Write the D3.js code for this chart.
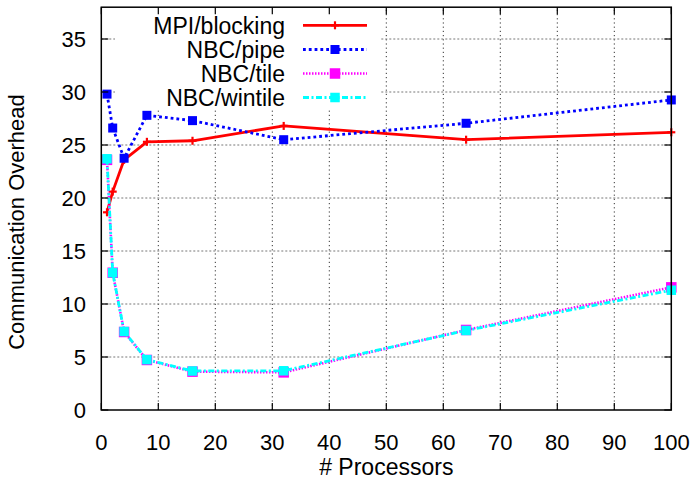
<!DOCTYPE html>
<html>
<head>
<meta charset="utf-8">
<script src="https://cdn.jsdelivr.net/npm/d3@7"></script>
<style>
  html, body { margin: 0; padding: 0; background: #fff; }
  svg { display: block; }
  text { font-family: "Liberation Sans", Arial, Helvetica, sans-serif; fill: #000; }
</style>
</head>
<body>
<svg id="chart" width="696" height="480"></svg>
<script>
// ---- data ----
const processors = [1, 2, 4, 8, 16, 32, 64, 100];
const mpiBlocking = [18.65, 20.6, 23.6, 25.3, 25.4, 26.8, 25.5, 26.2];
const nbcPipe     = [29.8, 26.6, 23.75, 27.8, 27.3, 25.5, 27.05, 29.25];
const nbcTile     = [23.6, 12.95, 7.36, 4.72, 3.62, 3.55, 7.55, 11.57];
const nbcWintile  = [23.7, 12.95, 7.4, 4.75, 3.68, 3.7, 7.5, 11.3];
const seriesNames = ["MPI/blocking", "NBC/pipe", "NBC/tile", "NBC/wintile"];
const xTicks = [0, 10, 20, 30, 40, 50, 60, 70, 80, 90, 100];
const yTicks = [0, 5, 10, 15, 20, 25, 30, 35];
const xLabel = "# Processors";
const yLabel = "Communication Overhead";

// ---- layout ----
const W = 696, H = 480;
const margin = { left: 101.3, right: 24.7, top: 7.2, bottom: 70 };
const x = d3.scaleLinear().domain([0, 100]).range([margin.left, W - margin.right]);
const y = d3.scaleLinear().domain([0, 38]).range([H - margin.bottom, margin.top]);

const svg = d3.select("#chart");

const styles = [
  { color: "#ff0000", width: 2.8, dash: null, marker: "plus", msize: 8 },
  { color: "#0000ff", width: 2.8, dash: "2.8,3", marker: "square", msize: 9 },
  { color: "#ff00ff", width: 2.6, dash: "1.5,1.5", marker: "square", msize: 10.5 },
  { color: "#00ffff", width: 2.8, dash: "6,2.5,2,2.5", marker: "square", msize: 9.5 }
];
const allSeries = [mpiBlocking, nbcPipe, nbcTile, nbcWintile];

// ---- grid ----
const grid = svg.append("g");
grid.selectAll("line.gx").data(xTicks.filter(d => d > 0 && d < 100)).join("line")
  .attr("x1", d => x(d)).attr("x2", d => x(d))
  .attr("y1", y(0)).attr("y2", y(38))
  .attr("stroke", "#333").attr("stroke-width", 1).attr("stroke-dasharray", "1.2,3");
grid.selectAll("line.gy").data(yTicks.filter(d => d > 0)).join("line")
  .attr("x1", x(0)).attr("x2", x(100))
  .attr("y1", d => y(d)).attr("y2", d => y(d))
  .attr("stroke", "#777").attr("stroke-width", 1).attr("stroke-dasharray", "2,2");

// ---- legend box (opaque) ----
svg.append("rect")
  .attr("x", 115).attr("y", margin.top)
  .attr("width", 266).attr("height", 101)
  .attr("fill", "#fff");

// ---- series ----
const line = d3.line().x((d, i) => x(processors[i])).y(d => y(d));

function drawMarker(g, st, cx, cy) {
  const s = st.msize;
  if (st.marker === "plus") {
    g.append("line").attr("x1", cx - s / 2).attr("x2", cx + s / 2).attr("y1", cy).attr("y2", cy)
      .attr("stroke", st.color).attr("stroke-width", 2.2);
    g.append("line").attr("x1", cx).attr("x2", cx).attr("y1", cy - s / 2).attr("y2", cy + s / 2)
      .attr("stroke", st.color).attr("stroke-width", 2.2);
  } else {
    g.append("rect").attr("x", cx - s / 2).attr("y", cy - s / 2).attr("width", s).attr("height", s)
      .attr("fill", st.color);
  }
}

allSeries.forEach((vals, k) => {
  const st = styles[k];
  const g = svg.append("g");
  g.append("path").datum(vals)
    .attr("d", line)
    .attr("fill", "none")
    .attr("stroke", st.color)
    .attr("stroke-width", st.width)
    .attr("stroke-dasharray", st.dash)
    .attr("stroke-linejoin", "round");
  vals.forEach((v, i) => drawMarker(g, st, x(processors[i]), y(v)));
});

// ---- frame & ticks ----
const frame = svg.append("g");
frame.append("rect")
  .attr("x", x(0)).attr("y", y(38))
  .attr("width", x(100) - x(0)).attr("height", y(0) - y(38))
  .attr("fill", "none").attr("stroke", "#000").attr("stroke-width", 1.5);
const tl = 7;
xTicks.forEach(t => {
  frame.append("line").attr("x1", x(t)).attr("x2", x(t)).attr("y1", y(0)).attr("y2", y(0) - tl)
    .attr("stroke", "#000").attr("stroke-width", 1.2);
  frame.append("line").attr("x1", x(t)).attr("x2", x(t)).attr("y1", y(38)).attr("y2", y(38) + tl)
    .attr("stroke", "#000").attr("stroke-width", 1.2);
  frame.append("text").attr("x", x(t)).attr("y", 450)
    .attr("text-anchor", "middle").attr("font-size", 22).text(t);
});
yTicks.forEach(t => {
  frame.append("line").attr("x1", x(0)).attr("x2", x(0) + tl).attr("y1", y(t)).attr("y2", y(t))
    .attr("stroke", "#000").attr("stroke-width", 1.2);
  frame.append("line").attr("x1", x(100)).attr("x2", x(100) - tl).attr("y1", y(t)).attr("y2", y(t))
    .attr("stroke", "#000").attr("stroke-width", 1.2);
  frame.append("text").attr("x", 86).attr("y", y(t)).attr("dy", "0.36em")
    .attr("text-anchor", "end").attr("font-size", 22).text(t);
});

// ---- axis labels ----
svg.append("text").attr("x", (x(0) + x(100)) / 2).attr("y", 475)
  .attr("text-anchor", "middle").attr("font-size", 23).text(xLabel);
svg.append("text")
  .attr("transform", "translate(24," + 222 + ") rotate(-90)")
  .attr("text-anchor", "middle").attr("font-size", 22).text(yLabel);

// ---- legend ----
const leg = svg.append("g");
const rowY = [25.3, 49.5, 73.5, 97.5];
seriesNames.forEach((name, k) => {
  const st = styles[k];
  const ry = rowY[k];
  leg.append("text").attr("x", 285).attr("y", ry + 8.5)
    .attr("text-anchor", "end").attr("font-size", 23).text(name);
  leg.append("line").attr("x1", 303).attr("x2", 367).attr("y1", ry).attr("y2", ry)
    .attr("stroke", st.color).attr("stroke-width", st.width).attr("stroke-dasharray", st.dash);
  drawMarker(leg, st, 335, ry);
});
</script>
</body>
</html>
